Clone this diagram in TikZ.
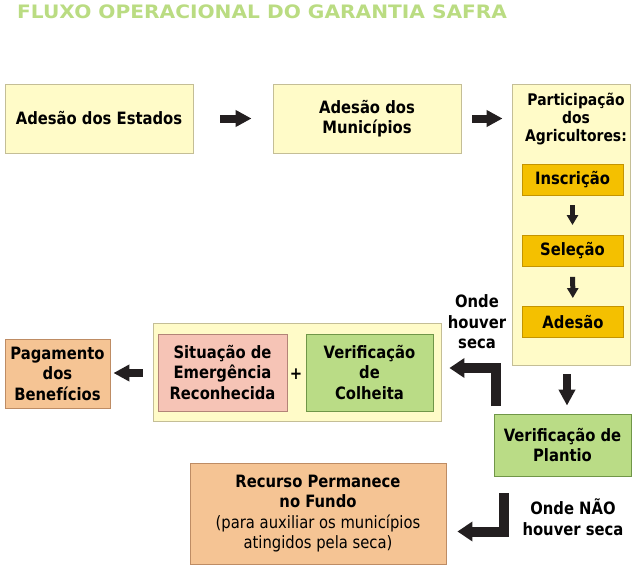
\documentclass[tikz,border=0pt]{standalone}
\usepackage{fontspec}
\setmainfont{DejaVu Sans}[FakeStretch=0.87]
\newfontfamily\titlefont{DejaVu Sans}[FakeStretch=1.09]
\usetikzlibrary{arrows.meta,positioning,calc}
\definecolor{boxFill}{RGB}{255,251,200}
\definecolor{boxLine}{RGB}{196,190,150}
\definecolor{goldFill}{RGB}{244,192,0}
\definecolor{goldLine}{RGB}{196,148,0}
\definecolor{greenFill}{RGB}{186,220,134}
\definecolor{greenLine}{RGB}{112,150,72}
\definecolor{pinkFill}{RGB}{246,196,182}
\definecolor{pinkLine}{RGB}{178,132,120}
\definecolor{orangeFill}{RGB}{245,196,148}
\definecolor{orangeLine}{RGB}{190,140,100}
\definecolor{titleGreen}{RGB}{186,220,130}
\definecolor{arrowDark}{RGB}{35,31,32}

\begin{document}
\begin{tikzpicture}[x=1pt, y=-1pt,
    every node/.style={font=\bfseries\fontsize{17}{20.5}\selectfont, align=center, inner sep=0pt},
    yellowbox/.style={draw=boxLine, fill=boxFill, line width=0.9pt},
    goldbox/.style={draw=goldLine, fill=goldFill, line width=0.9pt, minimum width=101pt, minimum height=31pt},
    greenbox/.style={draw=greenLine, fill=greenFill, line width=0.9pt},
    pinkbox/.style={draw=pinkLine, fill=pinkFill, line width=0.9pt},
    orangebox/.style={draw=orangeLine, fill=orangeFill, line width=0.9pt},
    blockarrow/.style={draw=arrowDark, line width=8pt, -{Triangle[length=16pt,width=16pt]}},
    smallarrow/.style={draw=arrowDark, line width=5pt, -{Triangle[length=10pt,width=11pt]}},
    elbowarrow/.style={draw=arrowDark, line width=10pt, miter limit=4, line join=miter, -{Triangle[length=15pt,width=19pt]}}]
  \useasboundingbox (0,0) rectangle (638,573);

  % title
  \node[anchor=west, text=titleGreen, font=\titlefont\bfseries\fontsize{18.5}{22}\selectfont] (title) at (17,12) {FLUXO OPERACIONAL DO GARANTIA SAFRA};

  % top row
  \node[yellowbox, minimum width=188pt, minimum height=69pt] (estados) at (99,118.5) {Adesão dos Estados};
  \node[yellowbox, minimum width=188pt, minimum height=69pt] (municipios) at (367,118.5) {Adesão dos\\Municípios};
  \node[yellowbox, minimum width=118pt, minimum height=281pt] (agricultores) at (571,224.5) {};
  \node[font=\bfseries\fontsize{16}{18}\selectfont] (partlabel) at (576,119) {Participação\\dos\\Agricultores:};
  \node[goldbox] (inscricao) at (572.5,179.5) {Inscrição};
  \node[goldbox] (selecao) at (572.5,251) {Seleção};
  \node[goldbox] (adesao) at (573,322) {Adesão};

  \draw[blockarrow, shorten <=27pt, shorten >=21pt] (estados) -- (municipios);
  \draw[blockarrow, shorten <=11pt, shorten >=9pt] (municipios.east) -- (agricultores.west |- municipios.east);
  \draw[smallarrow, shorten <=10pt, shorten >=10pt] (inscricao) -- (selecao);
  \draw[smallarrow, shorten <=10pt, shorten >=8pt] (selecao) -- (adesao);

  % plantio
  \node[greenbox, minimum width=137pt, minimum height=62pt] (plantio) at (562.5,445) {Verificação de\\Plantio};
  \draw[blockarrow, shorten <=9pt, shorten >=8pt] ([xshift=-4pt]agricultores.south) -- ([xshift=-4pt]agricultores.south |- plantio.north);

  % middle row
  \node[yellowbox, minimum width=288pt, minimum height=98pt] (emergencia) at (297,372) {};
  \node[pinkbox, minimum width=129pt, minimum height=77pt] (situacao) at (222.5,372.5) {Situação de\\Emergência\\Reconhecida};
  \node[greenbox, minimum width=127pt, minimum height=77pt] (colheita) at (369.5,372.5) {Verificação\\de\\Colheita};
  \node (plus) at (296,374) {+};
  \node[orangebox, minimum width=105pt, minimum height=69pt] (pagamento) at (57.5,373.5) {Pagamento\\dos\\Benefícios};
  \draw[blockarrow, shorten <=10pt, shorten >=3pt] ([yshift=-1pt]emergencia.west) -- ([yshift=-1pt]pagamento.east |- emergencia.west);

  \coordinate (secaStart) at (496,406);
  \draw[elbowarrow, shorten >=8pt] (secaStart) |- ([yshift=4pt]emergencia.east);
  \node (seca) at (477,322) {Onde\\houver\\seca};

  % bottom
  \node[orangebox, minimum width=256pt, minimum height=101pt] (recurso) at (318,513.5) {Recurso Permanece\\no Fundo\\{\mdseries(para auxiliar os municípios}\\{\mdseries atingidos pela seca)}};
  \coordinate (naoStart) at (504,493);
  \draw[elbowarrow, shorten >=11pt] (naoStart) |- ([yshift=-18pt]recurso.east);
  \node (naoseca) at (573,517) {Onde NÃO\\houver seca};
\end{tikzpicture}
\end{document}
